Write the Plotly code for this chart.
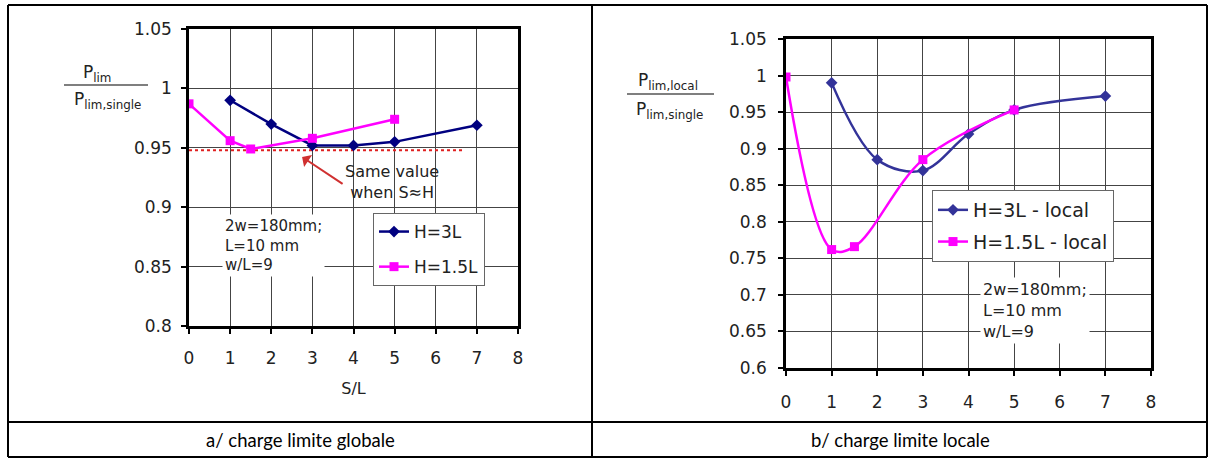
import plotly.graph_objects as go

# ---- data ----
# a/ charge limite globale
glob_h3_x = [1, 2, 3, 4, 5, 7]
glob_h3_y = [0.990, 0.970, 0.952, 0.952, 0.955, 0.969]
glob_h15_x = [0, 1, 1.5, 3, 5]
glob_h15_y = [0.987, 0.956, 0.949, 0.958, 0.974]
same_value_x = [0, 6.7]
same_value_y = [0.948, 0.948]

# b/ charge limite locale
loc_h3_x = [1, 2, 3, 4, 5, 7]
loc_h3_y = [0.990, 0.885, 0.870, 0.920, 0.953, 0.972]
loc_h15_x = [0, 1, 1.5, 3, 5]
loc_h15_y = [0.998, 0.762, 0.766, 0.885, 0.953]

x_ticks = [0, 1, 2, 3, 4, 5, 6, 7, 8]

W, H = 1210, 459
FONT = "DejaVu Sans"
NAVY = "#000080"
NAVY2 = "#333399"
MAGENTA = "#FF00FF"


def px(x):
    return x / W


def py(y):
    return 1 - y / H


fig = go.Figure()

# left chart
fig.add_trace(go.Scatter(
    x=same_value_x, y=same_value_y, mode="lines",
    line=dict(color="#E02020", width=2, dash="dot"),
    showlegend=False, xaxis="x", yaxis="y",
))
fig.add_trace(go.Scatter(
    x=glob_h3_x, y=glob_h3_y, mode="lines+markers", name="H=3L",
    line=dict(color=NAVY, width=2.5),
    marker=dict(symbol="diamond", size=9, color=NAVY),
    legend="legend", legendgroup="a1", xaxis="x", yaxis="y",
))
fig.add_trace(go.Scatter(
    x=glob_h15_x, y=glob_h15_y, mode="lines+markers", name="H=1.5L",
    line=dict(color=MAGENTA, width=2.5),
    marker=dict(symbol="square", size=9, color=MAGENTA),
    legend="legend", legendgroup="a2", xaxis="x", yaxis="y",
))

# right chart
fig.add_trace(go.Scatter(
    x=loc_h3_x, y=loc_h3_y, mode="lines+markers", name="H=3L - local",
    line=dict(color=NAVY2, width=2.5, shape="spline", smoothing=1),
    marker=dict(symbol="diamond", size=9, color=NAVY2),
    legend="legend2", legendgroup="b1", xaxis="x2", yaxis="y2",
))
fig.add_trace(go.Scatter(
    x=loc_h15_x, y=loc_h15_y, mode="lines+markers", name="H=1.5L - local",
    line=dict(color=MAGENTA, width=2.5, shape="spline", smoothing=1),
    marker=dict(symbol="square", size=9, color=MAGENTA),
    legend="legend2", legendgroup="b2", xaxis="x2", yaxis="y2",
))

axis_common = dict(
    showline=True, mirror=True, linecolor="black", linewidth=2.5,
    showgrid=True, gridcolor="#444444", gridwidth=1,
    ticks="outside", ticklen=5, tickwidth=2, tickcolor="black",
    zeroline=False, automargin=False,
    tickfont=dict(family=FONT, size=17, color="#222"),
)

fig.update_layout(
    template="none",
    width=W, height=H,
    margin=dict(l=0, r=0, t=0, b=0, pad=0, autoexpand=False),
    paper_bgcolor="white", plot_bgcolor="white",
    font=dict(family=FONT, size=16, color="#222"),
    xaxis=dict(axis_common, domain=[px(189), px(518)], range=[0, 8],
               tickvals=x_ticks, anchor="y", ticklabelstandoff=10,
               title=dict(text="S/L", standoff=16,
                          font=dict(family=FONT, size=16, color="#222"))),
    yaxis=dict(axis_common, domain=[py(326), py(29)], range=[0.8, 1.05],
               dtick=0.05, anchor="x", ticklabelstandoff=6),
    xaxis2=dict(axis_common, domain=[px(786), px(1151)], range=[0, 8],
                tickvals=x_ticks, anchor="y2", ticklabelstandoff=12),
    yaxis2=dict(axis_common, domain=[py(368), py(39)], range=[0.6, 1.05],
                dtick=0.05, anchor="x2", ticklabelstandoff=8),
    legend=dict(x=px(373), y=py(213), xanchor="left", yanchor="top",
                bgcolor="white", bordercolor="#666", borderwidth=1,
                font=dict(family=FONT, size=17, color="#222"),
                traceorder="grouped", tracegroupgap=10),
    legend2=dict(x=px(932), y=py(190), xanchor="left", yanchor="top",
                 bgcolor="white", bordercolor="#666", borderwidth=1,
                 font=dict(family=FONT, size=19, color="#222"),
                 traceorder="grouped", tracegroupgap=4),
)

box_text = "2w=180mm;<br>L=10 mm<br>w/L=9"
fig.add_annotation(
    x=px(222), y=py(214), xref="paper", yref="paper",
    xanchor="left", yanchor="top", align="left", showarrow=False,
    text=box_text, bgcolor="white", borderpad=2,
    font=dict(family=FONT, size=15, color="#222"),
)
fig.add_annotation(
    x=px(980), y=py(277), xref="paper", yref="paper",
    xanchor="left", yanchor="top", align="left", showarrow=False,
    text=box_text, bgcolor="white", borderpad=2,
    font=dict(family=FONT, size=16, color="#222"),
)

# "Same value" note with arrow
fig.add_annotation(
    x=2.75, y=0.9423, xref="x", yref="y", ax=42, ay=28,
    text="", showarrow=True, arrowhead=1, arrowsize=1.2,
    arrowwidth=2, arrowcolor="#D03030",
)
fig.add_annotation(
    x=px(392), y=py(182), xref="paper", yref="paper",
    xanchor="center", yanchor="middle",
    text="Same value<br>when S≈H", showarrow=False, align="center",
    font=dict(family=FONT, size=16, color="#222"),
)

# y-axis labels as fractions
sub = dict(family=FONT, size=17, color="#222")
for xc, yc, txt in [(97, 73, "P<sub>lim</sub>"),
                    (107, 101, "P<sub>lim,single</sub>"),
                    (668, 82, "P<sub>lim,local</sub>"),
                    (669, 110, "P<sub>lim,single</sub>")]:
    fig.add_annotation(x=px(xc), y=py(yc), xref="paper", yref="paper",
                       xanchor="center", yanchor="middle",
                       text=txt, showarrow=False, font=sub)
fig.add_shape(type="line", xref="paper", yref="paper",
              x0=px(64), x1=px(148), y0=py(85), y1=py(85),
              line=dict(color="#555", width=1.5))
fig.add_shape(type="line", xref="paper", yref="paper",
              x0=px(627), x1=px(714), y0=py(94), y1=py(94),
              line=dict(color="#555", width=1.5))

# table borders
border = dict(color="black", width=2)
for x0, y0, x1, y1 in [(8, 5, 1207, 5), (8, 422, 1207, 422),
                       (8, 457, 1207, 457), (8, 5, 8, 457),
                       (592, 5, 592, 457), (1207, 5, 1207, 457)]:
    fig.add_shape(type="line", xref="paper", yref="paper",
                  x0=px(x0), x1=px(x1), y0=py(y0), y1=py(y1), line=border)

# captions
cap = dict(family="Lato", size=18.5, color="black")
fig.add_annotation(x=px(300), y=py(440), xref="paper", yref="paper",
                   xanchor="center", yanchor="middle",
                   text="a/ charge limite globale", showarrow=False, font=cap)
fig.add_annotation(x=px(900), y=py(440), xref="paper", yref="paper",
                   xanchor="center", yanchor="middle",
                   text="b/ charge limite locale", showarrow=False, font=cap)

# drop the page's default body margin so the figure sits at the top-left
fig.write_html("out.html", config={"displayModeBar": False},
               post_script="document.body.style.margin='0px';")
